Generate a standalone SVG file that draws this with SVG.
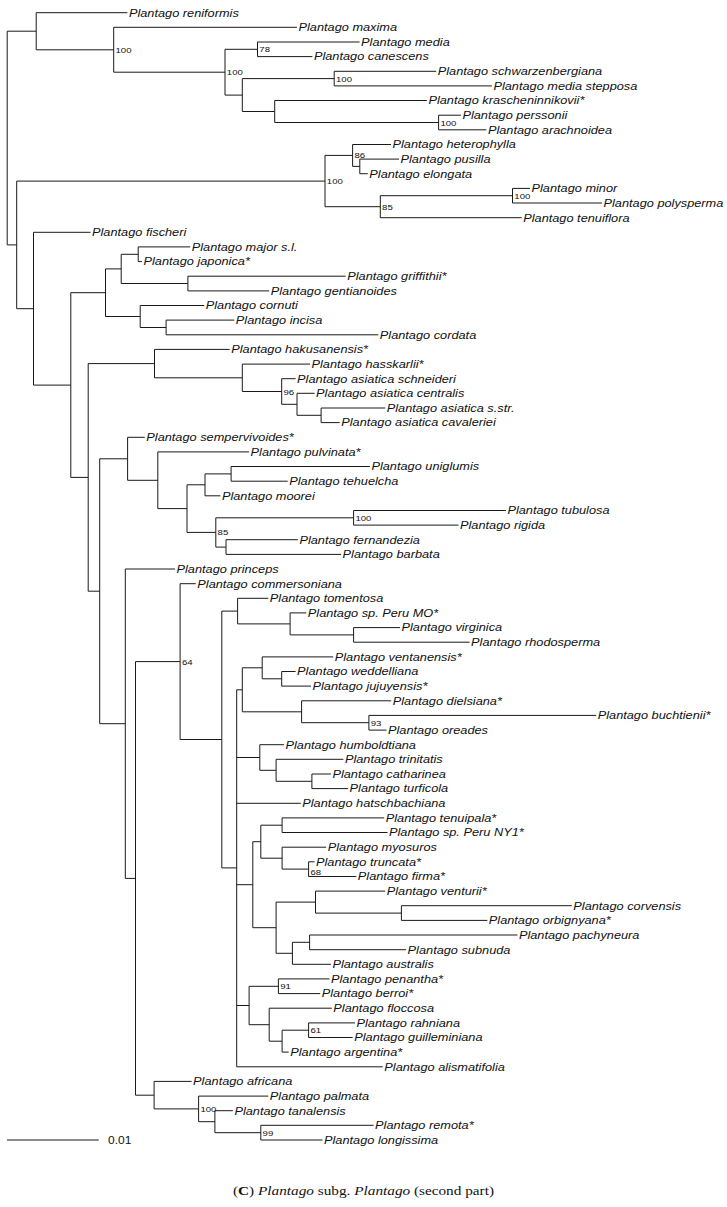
<svg xmlns="http://www.w3.org/2000/svg" width="727" height="1207" viewBox="0 0 727 1207">
<style>
.e{fill:none;stroke:#1a1a1a;stroke-width:1}
.l{font-family:"Liberation Sans",Arial,sans-serif;font-style:italic;font-size:11px;fill:#111}
.s{font-family:"Liberation Sans",Arial,sans-serif;font-size:8px;fill:#111}
.c{font-family:"Liberation Serif","Times New Roman",serif;font-size:13.5px;fill:#111}
</style>
<rect width="727" height="1207" fill="#fff"/>
<g id="connectors" class="e">
<path d="M7.2 31.2V244.9M7.2 31.2H36.2M7.2 244.9H16.7"/>
<path d="M36.2 12.7V49.8M36.2 12.7H127.4M36.2 49.8H113.7"/>
<path d="M113.7 27.3V72.2M113.7 27.3H297M113.7 72.2H225"/>
<path d="M225 49.3V95.1M225 49.3H257.5M225 95.1H242.3"/>
<path d="M257.5 42V56.6M257.5 42H359.6M257.5 56.6H312.4"/>
<path d="M242.3 78.6V111.5M242.3 78.6H334.2M242.3 111.5H274.7"/>
<path d="M334.2 71.3V85.9M334.2 71.3H436.2M334.2 85.9H491.9"/>
<path d="M274.7 100.5V122.5M274.7 100.5H426.9M274.7 122.5H438.6"/>
<path d="M438.6 115.2V129.8M438.6 115.2H460.9M438.6 129.8H486.4"/>
<path d="M16.7 181.1V308.7M16.7 181.1H325M16.7 308.7H33.5"/>
<path d="M325 155.4V206.7M325 155.4H352.6M325 206.7H380.3"/>
<path d="M352.6 144.5V166.4M352.6 144.5H391M352.6 166.4H359.8"/>
<path d="M359.8 159.1V173.7M359.8 159.1H399M359.8 173.7H367.8"/>
<path d="M380.3 195.7V217.7M380.3 195.7H512.5M380.3 217.7H521.7"/>
<path d="M512.5 188.4V203M512.5 188.4H530M512.5 203H602"/>
<path d="M33.5 232.3V385.1M33.5 232.3H90.5M33.5 385.1H70.8"/>
<path d="M70.8 292.7V477.4M70.8 292.7H105.5M70.8 477.4H88.2"/>
<path d="M105.5 268.9V316.5M105.5 268.9H121.2M105.5 316.5H140.2"/>
<path d="M121.2 254.3V283.5M121.2 254.3H138.2M121.2 283.5H187.9"/>
<path d="M138.2 246.9V261.6M138.2 246.9H190.2M138.2 261.6H142"/>
<path d="M187.9 276.2V290.9M187.9 276.2H345.7M187.9 290.9H269.2"/>
<path d="M140.2 305.5V327.5M140.2 305.5H204.2M140.2 327.5H166.1"/>
<path d="M166.1 320.1V334.8M166.1 320.1H234.3M166.1 334.8H378.3"/>
<path d="M88.2 363.6V591.2M88.2 363.6H154.5M88.2 591.2H99.7"/>
<path d="M154.5 349.4V377.8M154.5 349.4H229.7M154.5 377.8H242.3"/>
<path d="M242.3 364.1V391.5M242.3 364.1H310M242.3 391.5H281.7"/>
<path d="M281.7 378.7V404.3M281.7 378.7H295.6M281.7 404.3H297"/>
<path d="M297 393.3V415.3M297 393.3H314.6M297 415.3H321.1"/>
<path d="M321.1 408V422.6M321.1 408H385.2M321.1 422.6H339.7"/>
<path d="M99.7 458.8V723.7M99.7 458.8H127.6M99.7 723.7H125.3"/>
<path d="M127.6 437.3V480.3M127.6 437.3H144.8M127.6 480.3H157.8"/>
<path d="M157.8 451.9V508.6M157.8 451.9H249.1M157.8 508.6H187"/>
<path d="M187 484.8V532.4M187 484.8H205M187 532.4H215.8"/>
<path d="M205 473.9V495.8M205 473.9H231.1M205 495.8H220.4"/>
<path d="M231.1 466.5V481.2M231.1 466.5H369.9M231.1 481.2H287.7"/>
<path d="M215.8 517.8V547.1M215.8 517.8H353.6M215.8 547.1H226"/>
<path d="M353.6 510.5V525.1M353.6 510.5H505.9M353.6 525.1H458.5"/>
<path d="M226 539.7V554.4M226 539.7H297.9M226 554.4H341.1"/>
<path d="M125.3 569V878.4M125.3 569H175M125.3 878.4H135.5"/>
<path d="M135.5 661.6V1095.2M135.5 661.6H180.1M135.5 1095.2H154.1"/>
<path d="M180.1 583.7V739.5M180.1 583.7H195.8M180.1 739.5H221.8"/>
<path d="M221.8 611.1V867.9M221.8 611.1H237.6M221.8 867.9H236.7"/>
<path d="M237.6 598.3V623.9M237.6 598.3H268.3M237.6 623.9H290.1"/>
<path d="M290.1 612.9V634.9M290.1 612.9H306.3M290.1 634.9H353.6"/>
<path d="M353.6 627.6V642.2M353.6 627.6H400M353.6 642.2H469.6"/>
<path d="M236.7 689.8V1066.8M236.7 689.8H242.3M236.7 757.5H259.8M236.7 803.3H300.7M236.7 884.7H252.8M236.7 1005.5H249.1M236.7 1066.8H382.8"/>
<path d="M242.3 667.8V711.8M242.3 667.8H262.2M242.3 711.8H301.6"/>
<path d="M262.2 656.9V678.8M262.2 656.9H333.2M262.2 678.8H281.7"/>
<path d="M281.7 671.5V686.1M281.7 671.5H295.6M281.7 686.1H311"/>
<path d="M301.6 700.8V722.7M301.6 700.8H391.2M301.6 722.7H368.9"/>
<path d="M368.9 715.4V730.1M368.9 715.4H596.2M368.9 730.1H386.5"/>
<path d="M259.8 744.7V770.3M259.8 744.7H284M259.8 770.3H276.1"/>
<path d="M276.1 759.3V781.3M276.1 759.3H343.4M276.1 781.3H311.9"/>
<path d="M311.9 774V788.6M311.9 774H330.9M311.9 788.6H348.1"/>
<path d="M252.8 841.7V927.7M252.8 841.7H260.8M252.8 927.7H276.1"/>
<path d="M260.8 825.2V858.2M260.8 825.2H282.1M260.8 858.2H282.1"/>
<path d="M282.1 817.9V832.5M282.1 817.9H384.2M282.1 832.5H387.5"/>
<path d="M282.1 847.2V869.1M282.1 847.2H326.2M282.1 869.1H308.6"/>
<path d="M308.6 861.8V876.5M308.6 861.8H314.5M308.6 876.5H356.3"/>
<path d="M276.1 902.1V953.3M276.1 902.1H315.5M276.1 953.3H292.4"/>
<path d="M315.5 891.1V913.1M315.5 891.1H385.2M315.5 913.1H401.4"/>
<path d="M401.4 905.7V920.4M401.4 905.7H571.8M401.4 920.4H487.3"/>
<path d="M292.4 942.3V964.3M292.4 942.3H309.6M292.4 964.3H330.9"/>
<path d="M309.6 935V949.7M309.6 935H517.4M309.6 949.7H406.1"/>
<path d="M249.1 986.3V1024.7M249.1 986.3H278.4M249.1 1024.7H269.2"/>
<path d="M278.4 978.9V993.6M278.4 978.9H329.5M278.4 993.6H320.2"/>
<path d="M269.2 1008.2V1041.2M269.2 1008.2H331.8M269.2 1041.2H282.1"/>
<path d="M282.1 1030.2V1052.1M282.1 1030.2H308.6M282.1 1052.1H288.7"/>
<path d="M308.6 1022.9V1037.5M308.6 1022.9H355M308.6 1037.5H352.7"/>
<path d="M154.1 1081.4V1108.9M154.1 1081.4H191.6M154.1 1108.9H198.6"/>
<path d="M198.6 1096.1V1121.7M198.6 1096.1H268.3M198.6 1121.7H214.9"/>
<path d="M214.9 1110.7V1132.7M214.9 1110.7H232.9M214.9 1132.7H260.8"/>
<path d="M260.8 1125.3V1140M260.8 1125.3H373.6M260.8 1140H322.5"/>
</g>
<g id="support-values" class="s">
<text transform="translate(115.5 52.8) scale(1.2 1)">100</text>
<text transform="translate(226.8 75.2) scale(1.2 1)">100</text>
<text transform="translate(259.3 52.3) scale(1.2 1)">78</text>
<text transform="translate(336 81.6) scale(1.2 1)">100</text>
<text transform="translate(440.4 125.5) scale(1.2 1)">100</text>
<text transform="translate(354.4 158.4) scale(1.2 1)">86</text>
<text transform="translate(326.8 184.1) scale(1.2 1)">100</text>
<text transform="translate(514.3 198.7) scale(1.2 1)">100</text>
<text transform="translate(382.1 209.7) scale(1.2 1)">85</text>
<text transform="translate(283.5 394.5) scale(1.2 1)">96</text>
<text transform="translate(355.4 520.8) scale(1.2 1)">100</text>
<text transform="translate(217.6 535.4) scale(1.2 1)">85</text>
<text transform="translate(181.9 664.6) scale(1.2 1)">64</text>
<text transform="translate(370.7 725.7) scale(1.2 1)">93</text>
<text transform="translate(310.4 874.6) scale(1.2 1)">68</text>
<text transform="translate(280.2 989.3) scale(1.2 1)">91</text>
<text transform="translate(310.4 1033.2) scale(1.2 1)">61</text>
<text transform="translate(200.4 1111.9) scale(1.2 1)">100</text>
<text transform="translate(262.6 1135.7) scale(1.2 1)">99</text>
</g>
<g id="leaves" class="l">
<g id="n01"><text transform="translate(128.9 16.5) scale(1.16 1)">Plantago reniformis</text></g>
<g id="n02"><text transform="translate(298.5 31.1) scale(1.16 1)">Plantago maxima</text></g>
<g id="n03"><text transform="translate(361.1 45.8) scale(1.16 1)">Plantago media</text></g>
<g id="n04"><text transform="translate(313.9 60.4) scale(1.16 1)">Plantago canescens</text></g>
<g id="n05"><text transform="translate(437.7 75.1) scale(1.16 1)">Plantago schwarzenbergiana</text></g>
<g id="n06"><text transform="translate(493.4 89.7) scale(1.16 1)">Plantago media stepposa</text></g>
<g id="n07"><text transform="translate(428.4 104.3) scale(1.16 1)">Plantago krascheninnikovii*</text></g>
<g id="n08"><text transform="translate(462.4 119) scale(1.16 1)">Plantago perssonii</text></g>
<g id="n09"><text transform="translate(487.9 133.6) scale(1.16 1)">Plantago arachnoidea</text></g>
<g id="n10"><text transform="translate(392.5 148.3) scale(1.16 1)">Plantago heterophylla</text></g>
<g id="n11"><text transform="translate(400.5 162.9) scale(1.16 1)">Plantago pusilla</text></g>
<g id="n12"><text transform="translate(369.3 177.5) scale(1.16 1)">Plantago elongata</text></g>
<g id="n13"><text transform="translate(531.5 192.2) scale(1.16 1)">Plantago minor</text></g>
<g id="n14"><text transform="translate(603.5 206.8) scale(1.16 1)">Plantago polysperma</text></g>
<g id="n15"><text transform="translate(523.2 221.5) scale(1.16 1)">Plantago tenuiflora</text></g>
<g id="n16"><text transform="translate(92 236.1) scale(1.16 1)">Plantago fischeri</text></g>
<g id="n17"><text transform="translate(191.7 250.7) scale(1.16 1)">Plantago major s.l.</text></g>
<g id="n18"><text transform="translate(143.5 265.4) scale(1.16 1)">Plantago japonica*</text></g>
<g id="n19"><text transform="translate(347.2 280) scale(1.16 1)">Plantago griffithii*</text></g>
<g id="n20"><text transform="translate(270.7 294.7) scale(1.16 1)">Plantago gentianoides</text></g>
<g id="n21"><text transform="translate(205.7 309.3) scale(1.16 1)">Plantago cornuti</text></g>
<g id="n22"><text transform="translate(235.8 323.9) scale(1.16 1)">Plantago incisa</text></g>
<g id="n23"><text transform="translate(379.8 338.6) scale(1.16 1)">Plantago cordata</text></g>
<g id="n24"><text transform="translate(231.2 353.2) scale(1.16 1)">Plantago hakusanensis*</text></g>
<g id="n25"><text transform="translate(311.5 367.9) scale(1.16 1)">Plantago hasskarlii*</text></g>
<g id="n26"><text transform="translate(297.1 382.5) scale(1.16 1)">Plantago asiatica schneideri</text></g>
<g id="n27"><text transform="translate(316.1 397.1) scale(1.16 1)">Plantago asiatica centralis</text></g>
<g id="n28"><text transform="translate(386.7 411.8) scale(1.16 1)">Plantago asiatica s.str.</text></g>
<g id="n29"><text transform="translate(341.2 426.4) scale(1.16 1)">Plantago asiatica cavaleriei</text></g>
<g id="n30"><text transform="translate(146.3 441.1) scale(1.16 1)">Plantago sempervivoides*</text></g>
<g id="n31"><text transform="translate(250.6 455.7) scale(1.16 1)">Plantago pulvinata*</text></g>
<g id="n32"><text transform="translate(371.4 470.3) scale(1.16 1)">Plantago uniglumis</text></g>
<g id="n33"><text transform="translate(289.2 485) scale(1.16 1)">Plantago tehuelcha</text></g>
<g id="n34"><text transform="translate(221.9 499.6) scale(1.16 1)">Plantago moorei</text></g>
<g id="n35"><text transform="translate(507.4 514.3) scale(1.16 1)">Plantago tubulosa</text></g>
<g id="n36"><text transform="translate(460 528.9) scale(1.16 1)">Plantago rigida</text></g>
<g id="n37"><text transform="translate(299.4 543.5) scale(1.16 1)">Plantago fernandezia</text></g>
<g id="n38"><text transform="translate(342.6 558.2) scale(1.16 1)">Plantago barbata</text></g>
<g id="n39"><text transform="translate(176.5 572.8) scale(1.16 1)">Plantago princeps</text></g>
<g id="n40"><text transform="translate(197.3 587.5) scale(1.16 1)">Plantago commersoniana</text></g>
<g id="n41"><text transform="translate(269.8 602.1) scale(1.16 1)">Plantago tomentosa</text></g>
<g id="n42"><text transform="translate(307.8 616.7) scale(1.16 1)">Plantago sp. Peru MO*</text></g>
<g id="n43"><text transform="translate(401.5 631.4) scale(1.16 1)">Plantago virginica</text></g>
<g id="n44"><text transform="translate(471.1 646) scale(1.16 1)">Plantago rhodosperma</text></g>
<g id="n45"><text transform="translate(334.7 660.7) scale(1.16 1)">Plantago ventanensis*</text></g>
<g id="n46"><text transform="translate(297.1 675.3) scale(1.16 1)">Plantago weddelliana</text></g>
<g id="n47"><text transform="translate(312.5 689.9) scale(1.16 1)">Plantago jujuyensis*</text></g>
<g id="n48"><text transform="translate(392.7 704.6) scale(1.16 1)">Plantago dielsiana*</text></g>
<g id="n49"><text transform="translate(597.7 719.2) scale(1.16 1)">Plantago buchtienii*</text></g>
<g id="n50"><text transform="translate(388 733.9) scale(1.16 1)">Plantago oreades</text></g>
<g id="n51"><text transform="translate(285.5 748.5) scale(1.16 1)">Plantago humboldtiana</text></g>
<g id="n52"><text transform="translate(344.9 763.1) scale(1.16 1)">Plantago trinitatis</text></g>
<g id="n53"><text transform="translate(332.4 777.8) scale(1.16 1)">Plantago catharinea</text></g>
<g id="n54"><text transform="translate(349.6 792.4) scale(1.16 1)">Plantago turficola</text></g>
<g id="n55"><text transform="translate(302.2 807.1) scale(1.16 1)">Plantago hatschbachiana</text></g>
<g id="n56"><text transform="translate(385.7 821.7) scale(1.16 1)">Plantago tenuipala*</text></g>
<g id="n57"><text transform="translate(389 836.3) scale(1.16 1)">Plantago sp. Peru NY1*</text></g>
<g id="n58"><text transform="translate(327.7 851) scale(1.16 1)">Plantago myosuros</text></g>
<g id="n59"><text transform="translate(316 865.6) scale(1.16 1)">Plantago truncata*</text></g>
<g id="n60"><text transform="translate(357.8 880.3) scale(1.16 1)">Plantago firma*</text></g>
<g id="n61"><text transform="translate(386.7 894.9) scale(1.16 1)">Plantago venturii*</text></g>
<g id="n62"><text transform="translate(573.3 909.5) scale(1.16 1)">Plantago corvensis</text></g>
<g id="n63"><text transform="translate(488.8 924.2) scale(1.16 1)">Plantago orbignyana*</text></g>
<g id="n64"><text transform="translate(518.9 938.8) scale(1.16 1)">Plantago pachyneura</text></g>
<g id="n65"><text transform="translate(407.6 953.5) scale(1.16 1)">Plantago subnuda</text></g>
<g id="n66"><text transform="translate(332.4 968.1) scale(1.16 1)">Plantago australis</text></g>
<g id="n67"><text transform="translate(331 982.7) scale(1.16 1)">Plantago penantha*</text></g>
<g id="n68"><text transform="translate(321.7 997.4) scale(1.16 1)">Plantago berroi*</text></g>
<g id="n69"><text transform="translate(333.3 1012) scale(1.16 1)">Plantago floccosa</text></g>
<g id="n70"><text transform="translate(356.5 1026.7) scale(1.16 1)">Plantago rahniana</text></g>
<g id="n71"><text transform="translate(354.2 1041.3) scale(1.16 1)">Plantago guilleminiana</text></g>
<g id="n72"><text transform="translate(290.2 1055.9) scale(1.16 1)">Plantago argentina*</text></g>
<g id="n73"><text transform="translate(384.3 1070.6) scale(1.16 1)">Plantago alismatifolia</text></g>
<g id="n74"><text transform="translate(193.1 1085.2) scale(1.16 1)">Plantago africana</text></g>
<g id="n75"><text transform="translate(269.8 1099.9) scale(1.16 1)">Plantago palmata</text></g>
<g id="n76"><text transform="translate(234.4 1114.5) scale(1.16 1)">Plantago tanalensis</text></g>
<g id="n77"><text transform="translate(375.1 1129.1) scale(1.16 1)">Plantago remota*</text></g>
<g id="n78"><text transform="translate(324 1143.8) scale(1.16 1)">Plantago longissima</text></g>
</g>
<g id="scale-bar">
<path class="e" d="M7 1140H98.8"/>
<text class="s" style="font-size:10px" transform="translate(108 1143.6) scale(1.2 1)">0.01</text>
</g>
<g id="caption">
<text class="c" x="233" y="1195" textLength="261" lengthAdjust="spacingAndGlyphs">(<tspan font-weight="bold">C</tspan>) <tspan font-style="italic">Plantago</tspan> subg. <tspan font-style="italic">Plantago</tspan> (second part)</text>
</g>
</svg>
